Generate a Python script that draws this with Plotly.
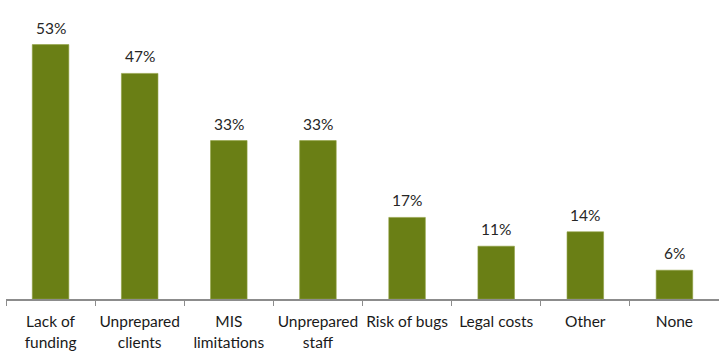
import plotly.graph_objects as go

categories = ["Lack of<br>funding", "Unprepared<br>clients", "MIS<br>limitations",
              "Unprepared<br>staff", "Risk of bugs", "Legal costs", "Other", "None"]
values = [53, 47, 33, 33, 17, 11, 14, 6]
value_labels = ["53%", "47%", "33%", "33%", "17%", "11%", "14%", "6%"]

BAR_COLOR = "#6a7f15"
FONT = "Lato"

fig = go.Figure(
    go.Bar(
        x=categories,
        y=values,
        marker=dict(color=BAR_COLOR, line=dict(color="#8fa040", width=0.6)),
        width=0.41,
        hoverinfo="skip",
    )
)

# value labels sitting above each bar
for cat, v, lab in zip(categories, values, value_labels):
    fig.add_annotation(
        x=cat, y=v, text=lab, showarrow=False,
        yanchor="bottom", yshift=6,
        font=dict(family=FONT, size=15.5, color="#262626"),
    )

fig.update_layout(
    width=719, height=352,
    margin=dict(l=6, r=0, t=11, b=53),
    paper_bgcolor="white", plot_bgcolor="white",
    showlegend=False,
    font=dict(family=FONT, size=15.5, color="#1a1a1a"),
    xaxis=dict(
        type="category",
        showline=True, linecolor="#8c8c8c", linewidth=1.5,
        ticks="outside", tickson="boundaries", ticklen=5, tickcolor="#8c8c8c",
        ticklabelstandoff=8, tickangle=0, automargin=False,
        showgrid=False, zeroline=False,
        tickfont=dict(family=FONT, size=15.5, color="#1a1a1a"),
    ),
    yaxis=dict(range=[0, 60], visible=False, showgrid=False, zeroline=False,
               automargin=False),
)

fig.write_html("out.html")
